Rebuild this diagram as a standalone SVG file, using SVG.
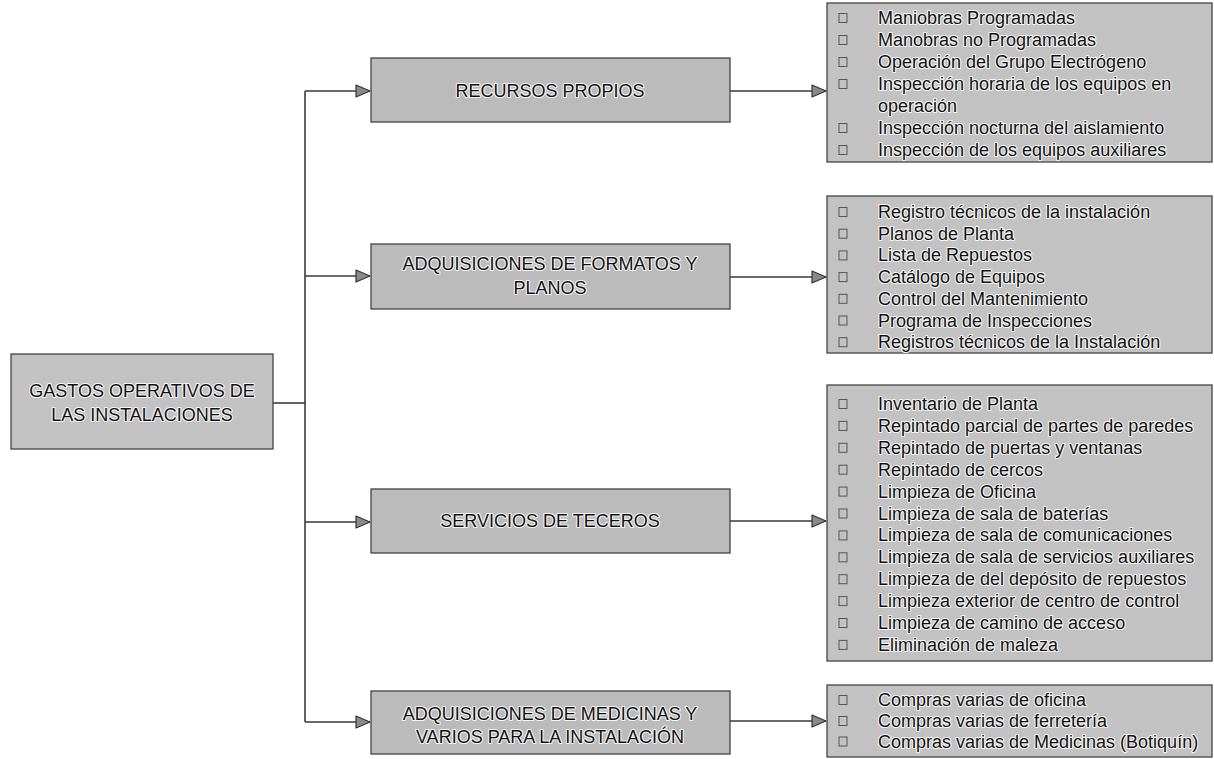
<svg xmlns="http://www.w3.org/2000/svg" width="1214" height="759" viewBox="0 0 1214 759">
<defs>
<style>
.box{fill:#c2c2c2;stroke:#444;stroke-width:1.3}
.mid{fill:#bbbbbb;stroke:#444;stroke-width:1.3}
.t{font-family:"Liberation Sans",Arial,sans-serif;font-size:18px;fill:#111;stroke:#f4f4f4;stroke-width:2.2;stroke-linejoin:round;paint-order:stroke}
.c{text-anchor:middle}
.b{fill:none;stroke:#555;stroke-width:1}
.ln{fill:none;stroke:#3a3a3a;stroke-width:1.6}
</style>
<marker id="ah" viewBox="0 0 16 14" refX="15" refY="7" markerWidth="16" markerHeight="14" markerUnits="userSpaceOnUse" orient="auto">
<path d="M1,1 L15,7 L1,13 Z" fill="#8a8a8a" stroke="#333" stroke-width="1.2" stroke-linejoin="round"/>
</marker>
</defs>

<g id="connectors">
<path class="ln" d="M273,403 H305"/>
<path class="ln" d="M305,91 V722"/>
<path class="ln" d="M305,91 H370" marker-end="url(#ah)"/>
<path class="ln" d="M305,276 H370" marker-end="url(#ah)"/>
<path class="ln" d="M305,522 H370" marker-end="url(#ah)"/>
<path class="ln" d="M305,722 H370" marker-end="url(#ah)"/>
<path class="ln" d="M730,91 H826" marker-end="url(#ah)"/>
<path class="ln" d="M730,277 H826" marker-end="url(#ah)"/>
<path class="ln" d="M730,521 H826" marker-end="url(#ah)"/>
<path class="ln" d="M730,721 H826" marker-end="url(#ah)"/>
</g>

<g id="root">
<rect class="box" x="11" y="354" width="262" height="95"/>
<text class="t c" x="142" y="397">GASTOS OPERATIVOS DE</text>
<text class="t c" x="142" y="421">LAS INSTALACIONES</text>
</g>

<g id="recursos">
<rect class="mid" x="371" y="58" width="359" height="64"/>
<text class="t c" x="550" y="97">RECURSOS PROPIOS</text>
</g>

<g id="formatos">
<rect class="mid" x="371" y="244" width="359" height="65"/>
<text class="t c" x="550" y="270">ADQUISICIONES DE FORMATOS Y</text>
<text class="t c" x="550" y="294">PLANOS</text>
</g>

<g id="servicios">
<rect class="mid" x="371" y="489" width="359" height="64"/>
<text class="t c" x="550" y="527">SERVICIOS DE TECEROS</text>
</g>

<g id="medicinas">
<rect class="mid" x="371" y="691" width="359" height="63"/>
<text class="t c" x="550" y="720">ADQUISICIONES DE MEDICINAS Y</text>
<text class="t c" x="550" y="743">VARIOS PARA LA INSTALACIÓN</text>
</g>

<g id="lista-recursos">
<rect class="box" x="827" y="3" width="385" height="159"/>
<rect class="b" x="839" y="13.5" width="8" height="9"/>
<rect class="b" x="839" y="35.5" width="8" height="9"/>
<rect class="b" x="839" y="57.5" width="8" height="9"/>
<rect class="b" x="839" y="79.5" width="8" height="9"/>
<rect class="b" x="839" y="123.5" width="8" height="9"/>
<rect class="b" x="839" y="145.5" width="8" height="9"/>
<text class="t" x="878" y="24">Maniobras Programadas</text>
<text class="t" x="878" y="46">Manobras no Programadas</text>
<text class="t" x="878" y="68">Operación del Grupo Electrógeno</text>
<text class="t" x="878" y="90">Inspección horaria de los equipos en</text>
<text class="t" x="878" y="112">operación</text>
<text class="t" x="878" y="134">Inspección nocturna del aislamiento</text>
<text class="t" x="878" y="156">Inspección de los equipos auxiliares</text>
</g>

<g id="lista-formatos">
<rect class="box" x="827" y="196" width="385" height="157"/>
<rect class="b" x="839" y="207.5" width="8" height="9"/>
<rect class="b" x="839" y="229.2" width="8" height="9"/>
<rect class="b" x="839" y="250.9" width="8" height="9"/>
<rect class="b" x="839" y="272.6" width="8" height="9"/>
<rect class="b" x="839" y="294.3" width="8" height="9"/>
<rect class="b" x="839" y="316" width="8" height="9"/>
<rect class="b" x="839" y="337.7" width="8" height="9"/>
<text class="t" x="878" y="218">Registro técnicos de la instalación</text>
<text class="t" x="878" y="239.7">Planos de Planta</text>
<text class="t" x="878" y="261.4">Lista de Repuestos</text>
<text class="t" x="878" y="283.1">Catálogo de Equipos</text>
<text class="t" x="878" y="304.8">Control del Mantenimiento</text>
<text class="t" x="878" y="326.5">Programa de Inspecciones</text>
<text class="t" x="878" y="348.2">Registros técnicos de la Instalación</text>
</g>

<g id="lista-servicios">
<rect class="box" x="827" y="385" width="385" height="276"/>
<rect class="b" x="839" y="399.5" width="8" height="9"/>
<rect class="b" x="839" y="421.4" width="8" height="9"/>
<rect class="b" x="839" y="443.3" width="8" height="9"/>
<rect class="b" x="839" y="465.2" width="8" height="9"/>
<rect class="b" x="839" y="487.1" width="8" height="9"/>
<rect class="b" x="839" y="509" width="8" height="9"/>
<rect class="b" x="839" y="530.9" width="8" height="9"/>
<rect class="b" x="839" y="552.8" width="8" height="9"/>
<rect class="b" x="839" y="574.7" width="8" height="9"/>
<rect class="b" x="839" y="596.6" width="8" height="9"/>
<rect class="b" x="839" y="618.5" width="8" height="9"/>
<rect class="b" x="839" y="640.4" width="8" height="9"/>
<text class="t" x="878" y="410">Inventario de Planta</text>
<text class="t" x="878" y="431.9">Repintado parcial de partes de paredes</text>
<text class="t" x="878" y="453.8">Repintado de puertas y ventanas</text>
<text class="t" x="878" y="475.7">Repintado de cercos</text>
<text class="t" x="878" y="497.6">Limpieza de Oficina</text>
<text class="t" x="878" y="519.5">Limpieza de sala de baterías</text>
<text class="t" x="878" y="541.4">Limpieza de sala de comunicaciones</text>
<text class="t" x="878" y="563.3">Limpieza de sala de servicios auxiliares</text>
<text class="t" x="878" y="585.2">Limpieza de del depósito de repuestos</text>
<text class="t" x="878" y="607.1">Limpieza exterior de centro de control</text>
<text class="t" x="878" y="629">Limpieza de camino de acceso</text>
<text class="t" x="878" y="650.9">Eliminación de maleza</text>
</g>

<g id="lista-medicinas">
<rect class="box" x="827" y="685" width="385" height="72"/>
<rect class="b" x="839" y="695.5" width="8" height="9"/>
<rect class="b" x="839" y="716.5" width="8" height="9"/>
<rect class="b" x="839" y="737" width="8" height="9"/>
<text class="t" x="878" y="706">Compras varias de oficina</text>
<text class="t" x="878" y="727">Compras varias de ferretería</text>
<text class="t" x="878" y="747.5">Compras varias de Medicinas (Botiquín)</text>
</g>
</svg>
